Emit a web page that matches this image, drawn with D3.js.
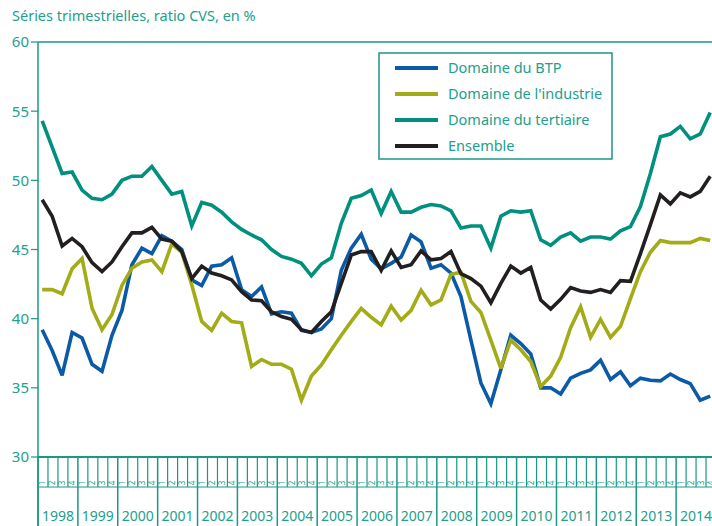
<!DOCTYPE html>
<html><head><meta charset="utf-8">
<script src="https://cdn.jsdelivr.net/npm/d3@7"></script>
<style>
html,body{margin:0;padding:0;background:#fff;overflow:hidden;}
svg{display:block;font-family:"Noto Sans","Open Sans",sans-serif;}
</style></head>
<body><svg id="c" width="712" height="526"></svg>
<script>
const years = ["1998","1999","2000","2001","2002","2003","2004","2005","2006","2007","2008","2009","2010","2011","2012","2013","2014"];
const quarterLabels = ["1","2","3","4"];
const yTicks = [30,35,40,45,50,55,60];
const seriesNames = ["Domaine du BTP","Domaine de l'industrie","Domaine du tertiaire","Ensemble"];
const btp = [39.2,37.7,35.9,39.0,38.6,36.7,36.2,38.8,40.6,43.9,45.1,44.7,46.0,45.6,45.0,42.8,42.4,43.8,43.9,44.4,42.1,41.6,42.3,40.35,40.5,40.4,39.15,39.0,39.25,40.0,43.5,45.1,46.1,44.3,43.6,44.0,44.45,46.05,45.55,43.65,43.9,43.3,41.6,38.45,35.35,33.85,36.3,38.8,38.2,37.45,35.0,35.0,34.55,35.7,36.05,36.3,37.0,35.6,36.15,35.15,35.7,35.55,35.5,36.0,35.6,35.3,34.1,34.4];
const industrie = [42.1,42.1,41.8,43.6,44.35,40.75,39.2,40.3,42.4,43.65,44.1,44.25,43.4,45.4,44.8,42.45,39.8,39.15,40.4,39.8,39.7,36.55,37.05,36.7,36.7,36.35,34.1,35.85,36.65,37.75,38.8,39.8,40.75,40.1,39.55,40.9,39.9,40.6,42.05,41.0,41.35,43.2,43.35,41.25,40.45,38.45,36.4,38.45,37.75,36.9,35.1,35.85,37.2,39.35,40.85,38.65,39.95,38.65,39.45,41.45,43.4,44.8,45.65,45.5,45.5,45.5,45.8,45.65];
const tertiaire = [54.3,52.4,50.5,50.6,49.3,48.7,48.6,49.0,50.0,50.3,50.3,51.0,50.0,49.0,49.2,46.7,48.4,48.2,47.7,47.0,46.45,46.05,45.7,45.0,44.5,44.3,44.0,43.1,43.95,44.4,46.9,48.7,48.9,49.3,47.6,49.2,47.7,47.7,48.05,48.25,48.15,47.8,46.55,46.7,46.7,45.1,47.4,47.8,47.7,47.8,45.7,45.3,45.9,46.2,45.6,45.9,45.9,45.75,46.35,46.65,48.1,50.5,53.15,53.35,53.9,53.0,53.35,54.9];
const ensemble = [48.6,47.4,45.25,45.8,45.2,44.05,43.4,44.1,45.2,46.2,46.2,46.6,45.75,45.6,44.85,42.9,43.8,43.3,43.1,42.8,41.95,41.35,41.3,40.5,40.15,39.95,39.2,39.0,39.8,40.5,42.55,44.6,44.85,44.85,43.5,44.9,43.7,43.9,44.9,44.25,44.35,44.85,43.25,42.9,42.35,41.15,42.55,43.8,43.3,43.7,41.35,40.7,41.4,42.25,42.0,41.9,42.1,41.9,42.75,42.7,44.7,46.8,48.95,48.3,49.1,48.8,49.2,50.3];
const colors = ["#0a5aa8","#a3ab16","#00907d","#231f20"];

const teal = "#1a9885";
const textCol = "#22a08c";
const svg = d3.select("#c");
const W = 712;
const mLeft = 38, mRight = 716, mTop = 42, mBottom = 457;
const nQ = years.length * 4;
const x = d3.scaleLinear().domain([0, nQ]).range([mLeft, mRight]);
const y = d3.scaleLinear().domain([30, 60]).range([mBottom, mTop]);

// title
svg.append("text").attr("x", 12).attr("y", 21).attr("fill", textCol)
  .style("font-size", "14.5px").text("Séries trimestrielles, ratio CVS, en %");

// y axis
const gy = svg.append("g");
gy.append("line").attr("x1", mLeft).attr("x2", mLeft).attr("y1", y(60)).attr("y2", 526)
  .attr("stroke", teal).attr("stroke-width", 1.5);
gy.selectAll(".yt").data(yTicks).enter().append("line")
  .attr("x1", 31).attr("x2", mLeft).attr("y1", d => y(d)).attr("y2", d => y(d))
  .attr("stroke", teal).attr("stroke-width", 1.2);
gy.selectAll(".yl").data(yTicks).enter().append("text")
  .attr("x", 29).attr("y", d => y(d)).attr("dy", "0.36em").attr("text-anchor", "end")
  .attr("fill", textCol).style("font-size", "15px").text(d => d);
// top line at 60
svg.append("line").attr("x1", mLeft).attr("x2", W).attr("y1", y(60)).attr("y2", y(60))
  .attr("stroke", teal).attr("stroke-width", 1.5);

// x axis
const gx = svg.append("g");
gx.append("line").attr("x1", mLeft).attr("x2", W).attr("y1", mBottom).attr("y2", mBottom)
  .attr("stroke", teal).attr("stroke-width", 2);
gx.append("line").attr("x1", mLeft).attr("x2", W).attr("y1", 487).attr("y2", 487)
  .attr("stroke", teal).attr("stroke-width", 1);
const qIdx = d3.range(nQ + 1);
gx.selectAll(".qt").data(qIdx).enter().append("line")
  .attr("x1", d => x(d)).attr("x2", d => x(d)).attr("y1", mBottom)
  .attr("y2", d => d % 4 === 0 ? 526 : 487)
  .attr("stroke", teal).attr("stroke-width", d => d % 4 === 0 ? 1.5 : 1.2);
gx.selectAll(".ql").data(d3.range(nQ)).enter().append("text")
  .attr("transform", d => `translate(${x(d + 0.5) + 2.5},483) rotate(-90)`)
  .attr("text-anchor", "middle").attr("fill", textCol).style("font-size", "8px")
  .text(d => quarterLabels[d % 4]);
gx.selectAll(".yl").data(years).enter().append("text")
  .attr("x", (d, i) => x(i * 4 + 2)).attr("y", 521).attr("text-anchor", "middle")
  .attr("fill", textCol).style("font-size", "14px").text(d => d);

// lines
const all = [btp, industrie, tertiaire, ensemble];
const line = d3.line().x((d, i) => x(i + 0.42)).y(d => y(d));
svg.append("g").selectAll("path").data(all).enter().append("path")
  .attr("d", d => line(d)).attr("fill", "none")
  .attr("stroke", (d, i) => colors[i]).attr("stroke-width", 3.6)
  .attr("stroke-linejoin", "miter").attr("stroke-miterlimit", 3);

// legend
const lg = svg.append("g");
lg.append("rect").attr("x", 379).attr("y", 53).attr("width", 233).attr("height", 106)
  .attr("fill", "#fff").attr("stroke", teal).attr("stroke-width", 1.5);
const rows = lg.selectAll(".r").data(seriesNames).enter().append("g")
  .attr("transform", (d, i) => `translate(0,${68 + i * 26})`);
rows.append("line").attr("x1", 395).attr("x2", 438).attr("y1", 0).attr("y2", 0)
  .attr("stroke", (d, i) => colors[i]).attr("stroke-width", 4);
rows.append("text").attr("x", 448).attr("y", 0).attr("dy", "0.36em")
  .attr("fill", textCol).style("font-size", "14.5px").text(d => d);
</script></body></html>
